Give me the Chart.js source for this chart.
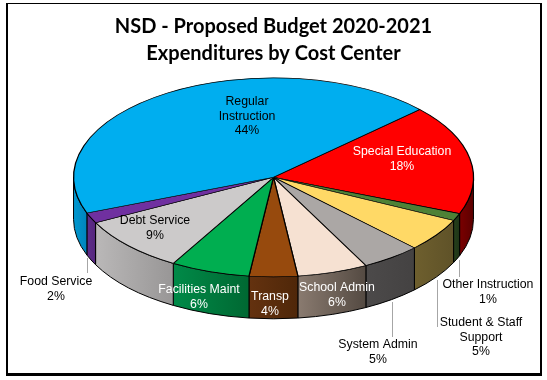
<!DOCTYPE html>
<html>
<head>
<meta charset="utf-8">
<title>NSD Budget</title>
<script src="https://cdn.jsdelivr.net/npm/chart.js@4"></script>
<style>
    html, body { margin: 0; padding: 0; background: #fff; overflow: hidden; }
    #wrap { position: relative; width: 547px; height: 380px; }
    #frame { position: absolute; left: 6px; top: 3px; width: 532px; height: 369px; border: solid #000; border-width: 1px 2px 3px 2px; pointer-events: none; }
</style>
</head>
<body>
<div id="wrap">
    <canvas id="budgetChart" width="547" height="380"></canvas>
    <div id="frame"></div>
</div>
<script>
// clockwise from the top right edge of Regular Instruction
const categories = ['Special Education', 'Other Instruction', 'Student & Staff Support', 'System Admin', 'School Admin',
    'Transp', 'Facilities Maint', 'Debt Service', 'Food Service', 'Regular Instruction'];
const values = [17.9, 1.2, 5.4, 4.8, 5.7, 3.9, 6.4, 9.1, 1.7, 43.9];
const titleLines = ['NSD - Proposed Budget 2020-2021', 'Expenditures by Cost Center'];

const topColors = ['#ff0000', '#4e8136', '#ffd966', '#aba7a5', '#f6e1d2', '#974a0d', '#00ae50', '#cccaca', '#7030a0', '#00aeef'];
// side wall gradient, left then right
const wallLeft = ['#7a0000', '#26401c', '#6e5f2e', '#4c4a4a', '#8a7b70', '#64320f', '#008a48', '#bab8b8', '#5f2c8c', '#0098d0'];
const wallRight = ['#5c0000', '#1f3417', '#5f5228', '#444242', '#544a42', '#4f2709', '#006832', '#989696', '#54267c', '#0084bc'];

// label text placement, one row per category: centre x, first line y, text colour, and leader line if any
const labelPlaces = [
    { x: 402, y: 152, color: '#fff', lines: ['Special Education'] },
    { x: 488, y: 285, color: '#000', lines: ['Other Instruction'], leader: [459, 260, 277] },
    { x: 481, y: 323, color: '#000', lines: ['Student & Staff', 'Support'], leader: [437, 280, 327] },
    { x: 378, y: 345, color: '#000', lines: ['System Admin'], leader: [392, 302, 337] },
    { x: 337, y: 288, color: '#fff', lines: ['School Admin'] },
    { x: 270, y: 297, color: '#fff', lines: ['Transp'] },
    { x: 199, y: 290, color: '#fff', lines: ['Facilities Maint'] },
    { x: 155, y: 221, color: '#000', lines: ['Debt Service'] },
    { x: 56, y: 282, color: '#000', lines: ['Food Service'], leader: [87, 258, 273] },
    { x: 247, y: 102, color: '#000', lines: ['Regular', 'Instruction'] }
];

const squashX = 203 / 110;
const squashY = 101 / 110;
const depth = 42;

function wallSpan(arc) {
    // part of the arc facing the viewer, canvas angles 0 to PI
    for (let k = -2; k <= 2; k++) {
        const a = Math.max(arc.startAngle + k * 2 * Math.PI, 0);
        const b = Math.min(arc.endAngle + k * 2 * Math.PI, Math.PI);
        if (b > a) return [a, b];
    }
    return null;
}

const tiltPlugin = {
    id: 'tilt',
    beforeDatasetsDraw(chart) {
        const ctx = chart.ctx;
        const arcs = chart.getDatasetMeta(0).data;
        const cx = arcs[0].x, cy = arcs[0].y;
        const rx = arcs[0].outerRadius * squashX, ry = arcs[0].outerRadius * squashY;

        arcs.forEach((arc, i) => {
            const span = wallSpan(arc);
            if (!span) return;
            const x0 = cx + rx * Math.cos(span[0]);
            const x1 = cx + rx * Math.cos(span[1]);
            const g = ctx.createLinearGradient(Math.min(x0, x1), 0, Math.max(x0, x1), 0);
            g.addColorStop(0, wallLeft[i]);
            g.addColorStop(1, wallRight[i]);
            ctx.beginPath();
            ctx.ellipse(cx, cy, rx, ry, 0, span[0], span[1]);
            ctx.ellipse(cx, cy + depth, rx, ry, 0, span[1], span[0], true);
            ctx.closePath();
            ctx.fillStyle = g;
            ctx.fill();
            ctx.lineWidth = 1;
            ctx.strokeStyle = '#000';
            ctx.stroke();
        });

        ctx.save();
        ctx.translate(cx, cy);
        ctx.scale(squashX, squashY);
        ctx.translate(-cx, -cy);
    },
    afterDatasetsDraw(chart) {
        const ctx = chart.ctx;
        ctx.restore();

        ctx.font = '12.3px "Liberation Sans", Arial, sans-serif';
        ctx.textAlign = 'center';
        ctx.textBaseline = 'middle';
        labelPlaces.forEach((p, i) => {
            if (p.leader) {
                ctx.beginPath();
                ctx.moveTo(p.leader[0] + 0.5, p.leader[1]);
                ctx.lineTo(p.leader[0] + 0.5, p.leader[2]);
                ctx.strokeStyle = '#a6a6a6';
                ctx.lineWidth = 1;
                ctx.stroke();
            }
            ctx.fillStyle = p.color;
            const rows = p.lines.concat(Math.round(values[i]) + '%');
            rows.forEach((t, n) => ctx.fillText(t, p.x, p.y + n * 14.4));
        });
    }
};

new Chart(document.getElementById('budgetChart'), {
    type: 'pie',
    data: {
        labels: categories,
        datasets: [{
            data: values,
            backgroundColor: topColors,
            borderColor: '#000',
            borderWidth: 0.7,
            clip: false
        }]
    },
    options: {
        responsive: false,
        animation: false,
        events: [],
        rotation: 47,
        layout: { padding: { left: 0, right: 0, top: 0, bottom: 94 } },
        plugins: {
            legend: { display: false },
            tooltip: { enabled: false },
            title: {
                display: true,
                text: titleLines,
                color: '#000',
                font: { family: 'Lato, "Open Sans", sans-serif', size: 20, weight: 'bold', lineHeight: 1.34 },
                padding: { top: 13, bottom: 2 }
            }
        }
    },
    plugins: [tiltPlugin]
});
</script>
</body>
</html>
